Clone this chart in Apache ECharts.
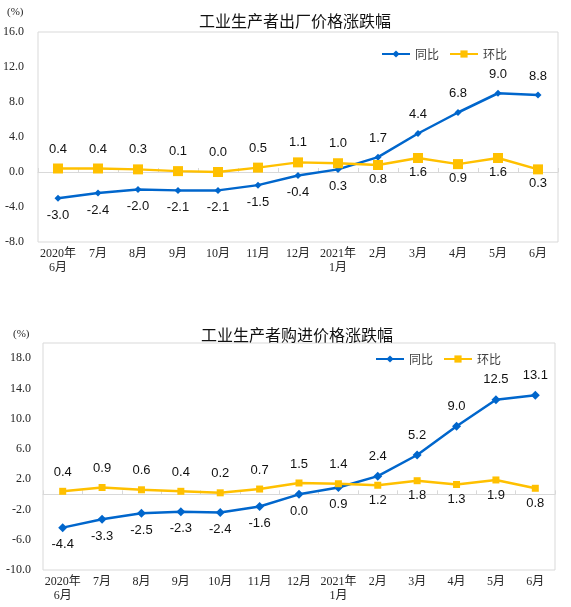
<!DOCTYPE html>
<html>
<head>
<meta charset="utf-8">
<script src="https://cdn.jsdelivr.net/npm/echarts@6/dist/echarts.min.js"></script>
<style>
  html, body { margin: 0; padding: 0; background: #fff; }
  #ppi-chart { width: 571px; height: 607px; }
</style>
</head>
<body>
<div id="ppi-chart"></div>
<script>
const BLUE = '#0066cc';
const YELLOW = '#ffc000';
const FRAME = '#d9d9d9';
const LABEL_FONT = '"Liberation Sans", Arial, sans-serif';
const AXIS_FONT = '"Liberation Serif", "Times New Roman", "Noto Sans CJK SC", serif';

const months = ['2020年\n6月', '7月', '8月', '9月', '10月', '11月', '12月',
  '2021年\n1月', '2月', '3月', '4月', '5月', '6月'];

// 出厂价格
const factoryYoY = [-3.0, -2.4, -2.0, -2.1, -2.1, -1.5, -0.4, 0.3, 1.7, 4.4, 6.8, 9.0, 8.8];
const factoryMoM = [0.4, 0.4, 0.3, 0.1, 0.0, 0.5, 1.1, 1.0, 0.8, 1.6, 0.9, 1.6, 0.3];

// 购进价格
const purchaseYoY = [-4.4, -3.3, -2.5, -2.3, -2.4, -1.6, 0.0, 0.9, 2.4, 5.2, 9.0, 12.5, 13.1];
const purchaseMoM = [0.4, 0.9, 0.6, 0.4, 0.2, 0.7, 1.5, 1.4, 1.2, 1.8, 1.3, 1.9, 0.8];

// from 2021年2月 on the 同比 line sits above 环比, labels swap sides
const SWAP_AT = 8;

function labelled(values, isYoY, gapUp, gapDown) {
  return values.map((v, i) => {
    const up = isYoY ? i >= SWAP_AT : i < SWAP_AT;
    return {
      value: v,
      label: {position: up ? 'top' : 'bottom', distance: up ? gapUp : gapDown}
    };
  });
}

const seriesLabel = {
  show: true,
  fontFamily: LABEL_FONT,
  fontSize: 13,
  color: '#111',
  formatter: (p) => p.value.toFixed(1)
};

function lineSeries(name, color, symbol, size, data, axisIdx) {
  return {
    name,
    type: 'line',
    xAxisIndex: axisIdx,
    yAxisIndex: axisIdx === 0 ? 0 : 1,
    symbol,
    symbolSize: size,
    itemStyle: {color},
    lineStyle: {width: 2.5, color},
    label: seriesLabel,
    animation: false,
    data
  };
}

function zeroAxis(gridIndex) {
  return {
    type: 'category',
    gridIndex,
    data: months,
    axisLine: {onZero: true, lineStyle: {color: FRAME, width: 1}},
    axisTick: {show: true, inside: true, length: 4, interval: 0, lineStyle: {color: FRAME}},
    axisLabel: {show: false}
  };
}

function bottomAxis(gridIndex) {
  return {
    type: 'category',
    gridIndex,
    data: months,
    position: 'bottom',
    axisLine: {show: false, onZero: false},
    axisTick: {show: false},
    axisLabel: {
      interval: 0,
      margin: 5,
      fontFamily: AXIS_FONT,
      fontSize: 12,
      lineHeight: 14,
      color: '#262626'
    }
  };
}

function valueAxis(gridIndex, min, max, margin) {
  return {
    type: 'value',
    gridIndex,
    min,
    max,
    interval: 4,
    splitLine: {show: false},
    axisLine: {show: false},
    axisTick: {show: false},
    axisLabel: {
      margin,
      fontFamily: AXIS_FONT,
      fontSize: 12,
      color: '#262626',
      // max of the lower chart is off the 4-step grid, leave it unlabelled
      formatter: (v) => ((v - min) % 4 !== 0 ? '' : v.toFixed(1))
    }
  };
}

function legendAt(left, top) {
  return {
    left,
    top,
    itemWidth: 28,
    itemHeight: 9,
    itemGap: 10,
    data: ['同比', '环比'],
    textStyle: {fontSize: 12, color: '#404040', fontFamily: '"Noto Sans CJK SC", sans-serif'}
  };
}

function titleAt(text, left, top) {
  return {
    text,
    left,
    top,
    textAlign: 'center',
    textStyle: {fontSize: 16, fontWeight: 'normal', color: '#111', fontFamily: '"Noto Sans CJK SC", sans-serif'}
  };
}

function unitAt(left, top) {
  return {
    type: 'text',
    left,
    top,
    style: {text: '(%)', font: `11px ${AXIS_FONT}`, fill: '#262626'}
  };
}

const chartOptions = {
  backgroundColor: '#fff',
  animation: false,
  title: [
    titleAt('工业生产者出厂价格涨跌幅', 290, 8),
    titleAt('工业生产者购进价格涨跌幅', 292, 322)
  ],
  graphic: [unitAt(7, 7), unitAt(13, 329)],
  legend: [legendAt(376, 43), legendAt(370, 348)],
  grid: [
    {left: 38, top: 32, width: 520, height: 210, show: true, borderColor: FRAME, borderWidth: 1},
    {left: 43, top: 343, width: 512, height: 227, show: true, borderColor: FRAME, borderWidth: 1}
  ],
  xAxis: [zeroAxis(0), bottomAxis(0), zeroAxis(1), bottomAxis(1)],
  yAxis: [valueAxis(0, -8, 16, 14), valueAxis(1, -10, 20, 12)],
  series: [
    lineSeries('同比', BLUE, 'diamond', 7, labelled(factoryYoY, true, 9, 7), 0),
    lineSeries('环比', YELLOW, 'rect', 10, labelled(factoryMoM, false, 8, 3), 0),
    lineSeries('同比', BLUE, 'diamond', 9, labelled(purchaseYoY, true, 9, 6), 2),
    lineSeries('环比', YELLOW, 'rect', 7, labelled(purchaseMoM, false, 9, 5), 2)
  ]
};

const ppiChart = echarts.init(document.getElementById('ppi-chart'));
ppiChart.setOption(chartOptions);
</script>
</body>
</html>
